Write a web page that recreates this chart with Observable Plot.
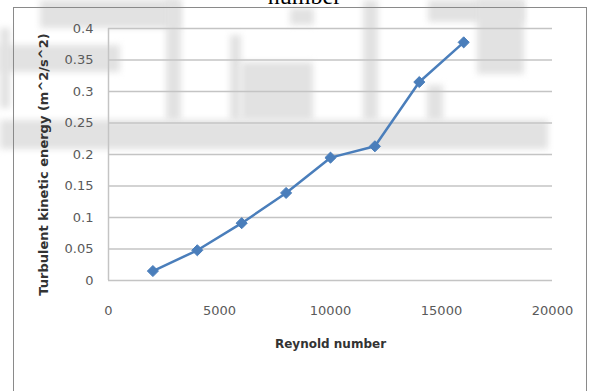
<!DOCTYPE html>
<html>
<head>
<meta charset="utf-8">
<script src="https://cdn.jsdelivr.net/npm/d3@7"></script>
<script src="https://cdn.jsdelivr.net/npm/@observablehq/plot@0.6"></script>
<style>
  html, body { margin: 0; padding: 0; background: #fff; }
  #page { position: relative; width: 593px; height: 391px; overflow: hidden; background: #fff; }
  /* faint document watermark behind the chart */
  .wm { position: absolute; background: #e2e2e2; filter: blur(3px); }
  #title {
    position: absolute; left: 0; width: 593px; top: -16px; text-align: center;
    font: 24px/24px "Liberation Serif", "DejaVu Serif", serif; color: #000; padding-left: 8px;
  }
  #frame {
    position: absolute; left: 13px; top: 7px; width: 574px; height: 420px;
    border: 1px solid #8a8a8a; box-sizing: border-box;
  }
  #chart { position: absolute; left: 0; top: 0; }
  #chart svg { background: transparent !important; }
</style>
</head>
<body>
<div id="page">
  <div class="wm" style="left:40px;top:0;width:140px;height:28px;"></div>
  <div class="wm" style="left:0;top:45px;width:120px;height:27px;"></div>
  <div class="wm" style="left:0;top:28px;width:10px;height:80px;"></div>
  <div class="wm" style="left:166px;top:0;width:15px;height:120px;"></div>
  <div class="wm" style="left:230px;top:35px;width:11px;height:85px;"></div>
  <div class="wm" style="left:241px;top:62px;width:72px;height:58px;"></div>
  <div class="wm" style="left:290px;top:8px;width:24px;height:17px;"></div>
  <div class="wm" style="left:363px;top:0;width:15px;height:120px;"></div>
  <div class="wm" style="left:428px;top:0;width:96px;height:22px;"></div>
  <div class="wm" style="left:477px;top:0;width:47px;height:74px;"></div>
  <div class="wm" style="left:427px;top:85px;width:16px;height:35px;"></div>
  <div class="wm" style="left:0;top:120px;width:548px;height:29px;"></div>
  <div id="title">number</div>
  <div id="frame"></div>
  <div id="chart"></div>
</div>
<script>
// Reynolds number sweep and the resulting turbulent kinetic energy
const reynolds = [2000, 4000, 6000, 8000, 10000, 12000, 14000, 16000];
const tke = [0.015, 0.048, 0.091, 0.139, 0.195, 0.213, 0.315, 0.378];

const xTicks = [0, 5000, 10000, 15000, 20000];
const yTicks = [0, 0.05, 0.1, 0.15, 0.2, 0.25, 0.3, 0.35, 0.4];

const xTitle = "Reynold number";
const yTitle = "Turbulent kinetic energy (m^2/s^2)";

const rows = reynolds.map((re, i) => ({re, k: tke[i]}));

const blue = "#4a7ebb";
const grid = "#c4c4c4";
const tickText = "#5a5a5a";

const chart = Plot.plot({
  width: 593,
  height: 391,
  marginTop: 28,
  marginBottom: 111,
  marginLeft: 108,
  marginRight: 41,
  style: {fontFamily: "DejaVu Sans, sans-serif", fontSize: "13px", background: "transparent", overflow: "visible"},
  x: {domain: [0, 20000]},
  y: {domain: [0, 0.4]},
  marks: [
    Plot.gridY(yTicks, {stroke: grid, strokeOpacity: 1, strokeWidth: 1.5}),
    Plot.ruleX([0], {stroke: grid, strokeWidth: 1.5}),
    Plot.axisY(yTicks, {tickSize: 0, tickPadding: 15, color: tickText, label: null, fontSize: 13,
      tickFormat: d => String(+d.toFixed(2))}),
    Plot.axisX(xTicks, {tickSize: 0, tickPadding: 25, color: tickText, label: null, fontSize: 13,
      tickFormat: d3.format("d")}),
    Plot.line(rows, {x: "re", y: "k", stroke: blue, strokeWidth: 2.5}),
    Plot.dot(rows, {x: "re", y: "k", symbol: "diamond2", fill: blue, stroke: blue, strokeWidth: 1, r: 5}),
    Plot.text([xTitle], {text: d => d, frameAnchor: "bottom", dy: 64, lineAnchor: "middle",
      textAnchor: "middle", fontWeight: "bold", fontSize: 12, fill: "#333"}),
    Plot.text([yTitle], {text: d => d, frameAnchor: "left", dx: -64.5, dy: 10, rotate: -90,
      lineAnchor: "middle", textAnchor: "middle", fontWeight: "bold", fontSize: 13, fill: "#333"})
  ]
});

document.getElementById("chart").appendChild(chart);
</script>
</body>
</html>
